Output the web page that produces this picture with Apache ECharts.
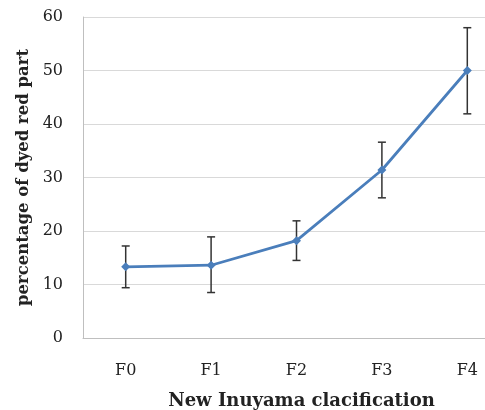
<!DOCTYPE html>
<html><head><meta charset="utf-8">
<script src="https://cdn.jsdelivr.net/npm/echarts@6/dist/echarts.min.js"></script>
<style>html,body{margin:0;padding:0;background:#fff;}#c{width:485px;height:410px;}</style>
</head><body><div id="c"></div>
<script>
var categories = ['F0','F1','F2','F3','F4'];
var means = [13.3, 13.6, 18.2, 31.4, 50.0];
var upper = [17.2, 18.9, 21.9, 36.6, 58.0];
var lower = [9.4, 8.5, 14.5, 26.2, 41.9];
var yTicks = [0, 10, 20, 30, 40, 50, 60];

var font = '"DejaVu Serif", "Liberation Serif", serif';
var chart = echarts.init(document.getElementById('c'), null, {renderer:'canvas'});
var errData = categories.map(function(c,i){ return [i, lower[i], upper[i]]; });
chart.setOption({
  animation:false,
  backgroundColor:'#fff',
  grid:{left:83, top:17, right:-25, bottom:72, containLabel:false, outerBoundsMode:'none'},
  xAxis:{type:'category', data:categories, boundaryGap:true,
    axisLine:{lineStyle:{color:'#bfbfbf', width:1}}, axisTick:{show:false},
    axisLabel:{color:'#222', fontFamily:font, fontSize:16, margin:25},
    name:'New Inuyama clacification', nameLocation:'middle', nameGap:54,
    nameTextStyle:{color:'#222', fontFamily:font, fontSize:18, fontWeight:'bold', padding:[0,0,0,10]}},
  yAxis:{type:'value', min:yTicks[0], max:yTicks[yTicks.length-1], interval:10,
    axisLine:{show:true, lineStyle:{color:'#bfbfbf', width:1}}, axisTick:{show:false},
    splitLine:{lineStyle:{color:'#d9d9d9', width:1}},
    axisLabel:{color:'#222', fontFamily:font, fontSize:16, margin:20},
    name:'percentage of dyed red part', nameLocation:'middle', nameGap:48,
    nameTextStyle:{color:'#222', fontFamily:font, fontSize:16.5, fontWeight:'bold'}},
  series:[
    {type:'line', data:means, symbol:'diamond', symbolSize:9,
     lineStyle:{color:'#4a7ebb', width:2.75}, itemStyle:{color:'#4a7ebb'}, z:3},
    {type:'custom', data:errData, z:2,
     renderItem:function(params, api){
       var i = api.value(0);
       var lo = api.coord([i, api.value(1)]);
       var hi = api.coord([i, api.value(2)]);
       var w = 4;
       var st = {stroke:'#333', lineWidth:1.5};
       return {type:'group', children:[
         {type:'line', shape:{x1:lo[0], y1:lo[1], x2:hi[0], y2:hi[1]}, style:st},
         {type:'line', shape:{x1:lo[0]-w, y1:lo[1], x2:lo[0]+w, y2:lo[1]}, style:st},
         {type:'line', shape:{x1:hi[0]-w, y1:hi[1], x2:hi[0]+w, y2:hi[1]}, style:st}
       ]};
     }}
  ]
});
</script></body></html>
